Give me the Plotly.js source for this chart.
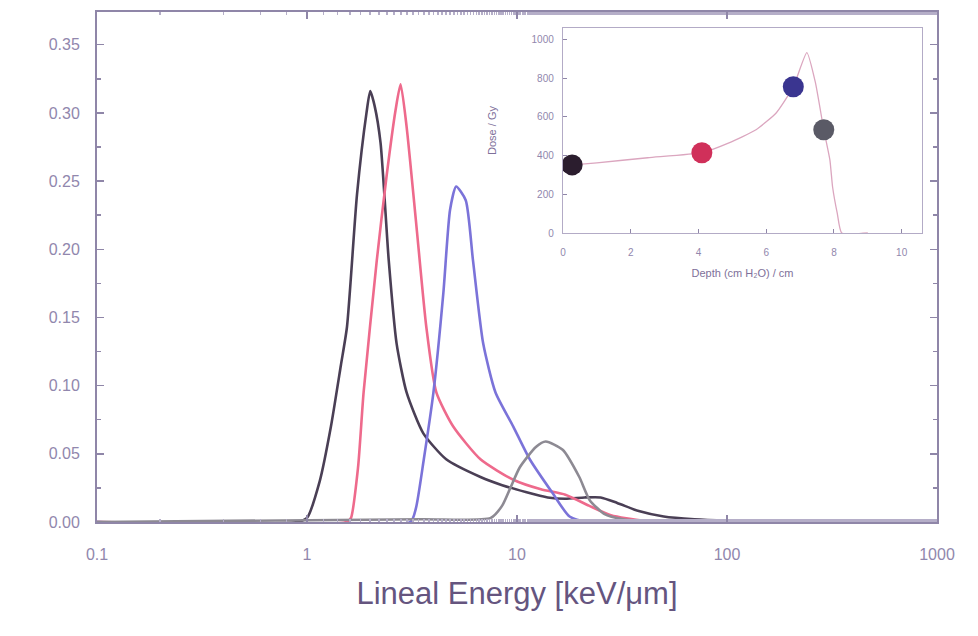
<!DOCTYPE html>
<html>
<head>
<meta charset="utf-8">
<script src="https://cdn.plot.ly/plotly-3.0.1.min.js"></script>
<style>html,body{margin:0;padding:0;background:#fff;}#chart{width:978px;height:636px;}</style>
</head>
<body>
<div id="chart"></div>
<script>
// Main spectra: lineal energy y (keV/um) vs y·d(y)
const blackX = [0.1, 0.9, 1.0, 1.15, 1.3, 1.45, 1.55, 1.73, 1.92, 2.0, 2.1, 2.24, 2.45, 2.67, 2.98, 3.58, 4.6, 6.7, 8.5, 11, 14, 17, 21, 25, 30, 38, 50, 70, 100, 200, 1000];
const blackY = [0, 0, 0.003, 0.03, 0.07, 0.115, 0.143, 0.24, 0.30, 0.316, 0.305, 0.278, 0.192, 0.131, 0.095, 0.065, 0.046, 0.033, 0.027, 0.022, 0.018, 0.017, 0.018, 0.018, 0.014, 0.008, 0.004, 0.002, 0.001, 0, 0];

const redX = [0.1, 1.55, 1.62, 1.75, 1.86, 2.15, 2.39, 2.64, 2.79, 2.98, 3.32, 3.70, 4.13, 4.97, 6.7, 9.6, 13, 17, 22, 28, 40, 100, 1000];
const redY = [0, 0, 0.003, 0.04, 0.095, 0.192, 0.253, 0.302, 0.321, 0.29, 0.217, 0.143, 0.095, 0.070, 0.046, 0.031, 0.024, 0.02, 0.012, 0.005, 0.001, 0, 0];

const blueX = [0.1, 3.1, 3.3, 3.6, 4.0, 4.46, 4.8, 5.13, 5.7, 6.17, 6.9, 7.9, 9.6, 11.5, 14.8, 17.8, 22, 100, 1000];
const blueY = [0, 0, 0.01, 0.046, 0.095, 0.168, 0.229, 0.246, 0.236, 0.192, 0.131, 0.095, 0.070, 0.046, 0.021, 0.004, 0, 0, 0];

const grayX = [0.1, 3.5, 7.5, 8.5, 9.3, 10.3, 12.3, 13.7, 16.5, 19.8, 22.2, 26, 32, 50, 1000];
const grayY = [0, 0.002, 0.003, 0.012, 0.025, 0.040, 0.055, 0.059, 0.053, 0.033, 0.016, 0.006, 0.002, 0, 0];

// Inset: depth-dose curve and the four measurement positions
const curveDepth = [0, 0.27, 1.0, 2.5, 4.1, 4.9, 5.7, 6.3, 6.8, 7.2, 7.45, 7.7, 7.88, 7.96, 8.1, 8.23, 9.0];
const curveDose  = [350, 352, 363, 389, 415, 466, 534, 622, 756, 933, 780, 534, 378, 238, 100, 0, 0];
const pointDepth = [0.27, 4.1, 6.8, 7.7];
const pointDose  = [352, 415, 756, 534];
const pointColors = ['#2b1d2e', '#d0305a', '#3a3590', '#5a5a66'];

const xTickVals = [0.1, 1, 10, 100, 1000];
const xTickText = ['0.1', '1', '10', '100', '1000'];
const yTickVals = [0, 0.05, 0.10, 0.15, 0.20, 0.25, 0.30, 0.35];
const yTickText = ['0.00', '0.05', '0.10', '0.15', '0.20', '0.25', '0.30', '0.35'];
const insetXTicks = [0, 2, 4, 6, 8, 10];
const insetYTicks = [0, 200, 400, 600, 800, 1000];

const frame = '#8f86a8';
const tickCol = '#9187ad';

const traces = [
  {x: blackX, y: blackY, mode: 'lines', line: {color: '#4a3f55', width: 2.6, shape: 'spline', smoothing: 0.6}, xaxis: 'x', yaxis: 'y'},
  {x: redX, y: redY, mode: 'lines', line: {color: '#ee6a8c', width: 2.6, shape: 'spline', smoothing: 0.6}, xaxis: 'x', yaxis: 'y'},
  {x: blueX, y: blueY, mode: 'lines', line: {color: '#7b73d9', width: 2.6, shape: 'spline', smoothing: 0.6}, xaxis: 'x', yaxis: 'y'},
  {x: grayX, y: grayY, mode: 'lines', line: {color: '#8d8a93', width: 2.6, shape: 'spline', smoothing: 0.6}, xaxis: 'x', yaxis: 'y'},
  {x: curveDepth, y: curveDose, mode: 'lines', line: {color: '#dba6bf', width: 1.3, shape: 'spline', smoothing: 0.5}, xaxis: 'x2', yaxis: 'y2'},
  {x: pointDepth, y: pointDose, mode: 'markers', marker: {color: pointColors, size: 21}, xaxis: 'x2', yaxis: 'y2'}
];

const layout = {
  width: 978, height: 636,
  margin: {l: 0, r: 0, t: 0, b: 0},
  paper_bgcolor: '#ffffff', plot_bgcolor: '#ffffff',
  showlegend: false,
  font: {family: 'Liberation Sans, Arial, sans-serif', color: tickCol},
  xaxis: {
    type: 'log', range: [-1, 3], domain: [97/978, 937/978],
    tickvals: xTickVals, ticktext: xTickText,
    ticks: 'inside', ticklen: 7, tickcolor: frame, tickwidth: 1.5,
    minor: {ticks: 'inside', ticklen: 3, tickcolor: '#b5aec8', showgrid: false},
    showline: true, linecolor: frame, linewidth: 2, mirror: 'ticks',
    showgrid: false, zeroline: false,
    tickfont: {size: 16, color: tickCol},
    ticklabelstandoff: 17,
    title: {text: 'Lineal Energy [keV/μm]', font: {size: 31, color: '#65557f'}, standoff: 20},
    anchor: 'y'
  },
  yaxis: {
    range: [0, 0.374], domain: [(636-522)/636, (636-12)/636],
    tickvals: yTickVals, ticktext: yTickText,
    ticks: 'inside', ticklen: 7, tickcolor: frame, tickwidth: 1.5,
    minor: {ticks: 'inside', ticklen: 4, tickcolor: frame, dtick: 0.025, showgrid: false},
    showline: true, linecolor: frame, linewidth: 2, mirror: 'ticks',
    showgrid: false, zeroline: false,
    tickfont: {size: 16, color: tickCol},
    ticklabelstandoff: 12,
    anchor: 'x'
  },
  xaxis2: {
    range: [0, 10.6], domain: [563/978, 922/978],
    tickvals: insetXTicks,
    ticks: 'inside', ticklen: 4, tickcolor: frame,
    showline: true, linecolor: '#b3abc6', linewidth: 1.2, mirror: true,
    showgrid: false, zeroline: false,
    tickfont: {size: 10, color: tickCol},
    ticklabelstandoff: 10,
    title: {text: 'Depth (cm H₂O) / cm', font: {size: 11, color: '#7e709a'}, standoff: 12},
    anchor: 'y2'
  },
  yaxis2: {
    range: [0, 1060], domain: [(636-233)/636, (636-28)/636],
    tickvals: insetYTicks,
    ticks: 'inside', ticklen: 4, tickcolor: frame,
    showline: true, linecolor: '#b3abc6', linewidth: 1.2, mirror: true,
    showgrid: false, zeroline: false,
    tickfont: {size: 10, color: tickCol},
    ticklabelstandoff: 6,
    title: {text: 'Dose / Gy', font: {size: 11, color: '#7e709a'}, standoff: 32},
    anchor: 'x2'
  }
};

Plotly.newPlot('chart', traces, layout, {displayModeBar: false, staticPlot: true});
</script>
</body>
</html>
